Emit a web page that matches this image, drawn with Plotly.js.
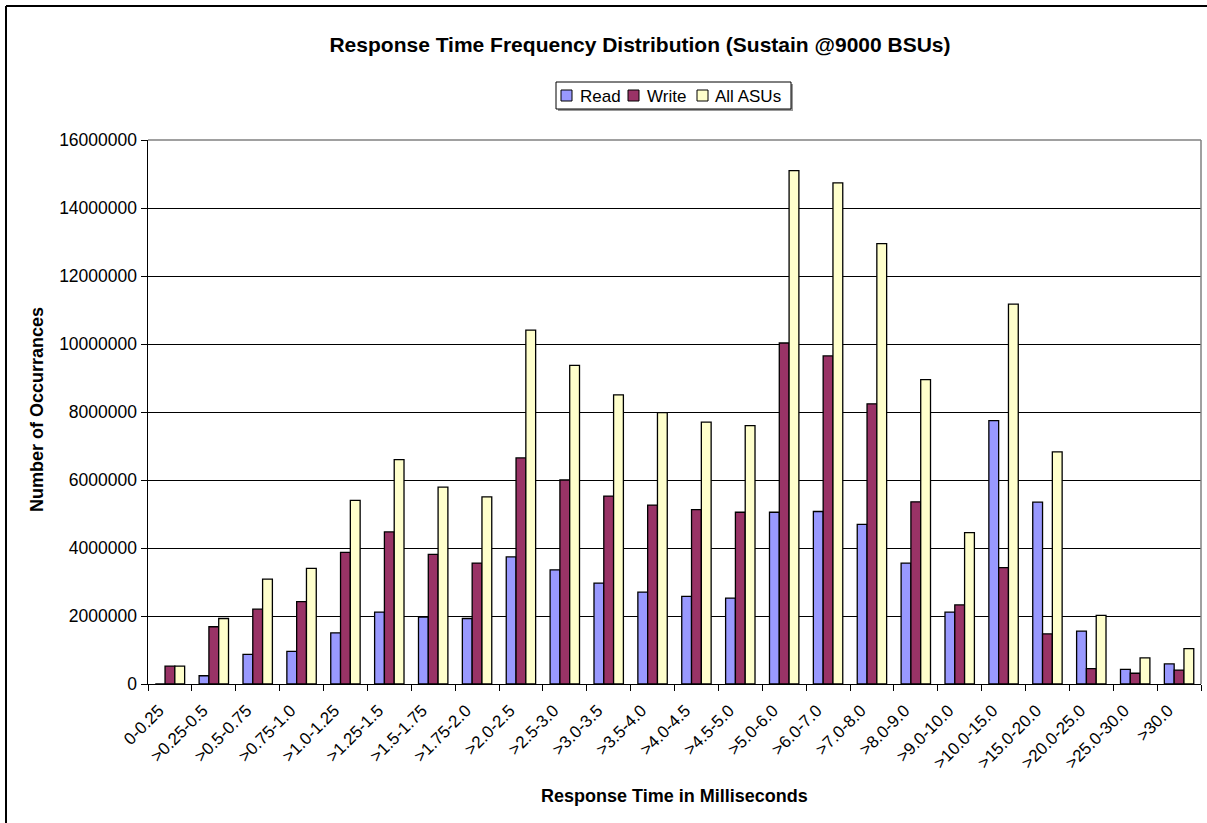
<!DOCTYPE html>
<html>
<head>
<meta charset="utf-8">
<script src="https://cdn.plot.ly/plotly-3.0.1.min.js"></script>
<style>
  html, body { margin: 0; padding: 0; background: #fff; }
  #chart { width: 1207px; height: 823px; }
</style>
</head>
<body>
<div id="chart"></div>
<script>
// Response-time buckets (ms)
const buckets = [
  "0-0.25", ">0.25-0.5", ">0.5-0.75", ">0.75-1.0", ">1.0-1.25", ">1.25-1.5",
  ">1.5-1.75", ">1.75-2.0", ">2.0-2.5", ">2.5-3.0", ">3.0-3.5", ">3.5-4.0",
  ">4.0-4.5", ">4.5-5.0", ">5.0-6.0", ">6.0-7.0", ">7.0-8.0", ">8.0-9.0",
  ">9.0-10.0", ">10.0-15.0", ">15.0-20.0", ">20.0-25.0", ">25.0-30.0", ">30.0"
];

// Occurrence counts per bucket
const readCounts = [
  0, 242000, 874000, 958000, 1505000, 2116000,
  1968000, 1926000, 3737000, 3358000, 2968000, 2705000,
  2579000, 2526000, 5052000, 5074000, 4695000, 3558000,
  2116000, 7747000, 5347000, 1558000, 432000, 589000
];
const writeCounts = [
  526000, 1684000, 2200000, 2420000, 3874000, 4474000,
  3810000, 3558000, 6650000, 6000000, 5526000, 5263000,
  5126000, 5052000, 10030000, 9650000, 8240000, 5358000,
  2326000, 3420000, 1474000, 453000, 316000, 410000
];
const allCounts = [
  526000, 1926000, 3084000, 3400000, 5400000, 6600000,
  5790000, 5505000, 10410000, 9370000, 8505000, 7979000,
  7705000, 7600000, 15100000, 14740000, 12950000, 8950000,
  4453000, 11170000, 6830000, 2020000, 768000, 1042000
];

const seriesNames = ["Read", "Write", "All ASUs"];
const seriesColors = ["#9999FF", "#993366", "#FFFFCC"];

const yTicks = [0, 2000000, 4000000, 6000000, 8000000, 10000000, 12000000, 14000000, 16000000];

const FONT = "Arial, 'Liberation Sans', sans-serif";

// page size and plot-area margins (px)
const W = 1207, H = 823;
const L = 148, R = 6, T = 140, B = 139;
const pw = W - L - R, ph = H - T - B;
const px = v => (v - L) / pw;        // page x -> paper x
const py = v => (H - B - v) / ph;    // page y -> paper y

const traces = [readCounts, writeCounts, allCounts].map((vals, i) => ({
  type: "bar",
  name: seriesNames[i],
  x: buckets,
  y: vals,
  marker: { color: seriesColors[i], line: { color: "#000", width: 1.3 } },
  hoverinfo: "x+y+name"
}));

// Boxed legend across the top: small swatches followed by series names
const legendBox = { x0: 556, x1: 791, y0: 82, y1: 109 };
const swatchLeft = [561, 628, 697];
const labelLeft = [578, 645, 713];
const swatch = 11;
const legendMid = (legendBox.y0 + legendBox.y1) / 2;

const legendShapes = [
  // drop shadow
  { type: "rect", xref: "paper", yref: "paper",
    x0: px(legendBox.x0 + 2), x1: px(legendBox.x1 + 2),
    y0: py(legendBox.y0 + 2), y1: py(legendBox.y1 + 2),
    fillcolor: "#9a9a9a", line: { width: 0 }, layer: "above" },
  { type: "rect", xref: "paper", yref: "paper",
    x0: px(legendBox.x0), x1: px(legendBox.x1),
    y0: py(legendBox.y0), y1: py(legendBox.y1),
    fillcolor: "#fff", line: { color: "#000", width: 1 }, layer: "above" }
].concat(seriesColors.map((c, i) => ({
  type: "rect", xref: "paper", yref: "paper",
  x0: px(swatchLeft[i]), x1: px(swatchLeft[i] + swatch),
  y0: py(legendMid - swatch / 2), y1: py(legendMid + swatch / 2),
  fillcolor: c, line: { color: "#000", width: 1 }, layer: "above"
})));

const legendLabels = seriesNames.map((n, i) => ({
  text: n, xref: "paper", yref: "paper",
  x: px(labelLeft[i]), y: py(legendMid + 0.5),
  xanchor: "left", yanchor: "middle", showarrow: false,
  font: { family: FONT, size: 17, color: "#000" }
}));

const layout = {
  width: W, height: H,
  margin: { l: L, r: R, t: T, b: B, pad: 0 },
  paper_bgcolor: "#fff",
  plot_bgcolor: "#fff",
  font: { family: FONT, color: "#000", size: 17 },
  barmode: "group",
  bargap: 0.33,
  bargroupgap: 0,
  showlegend: false,
  title: {
    text: "<b>Response Time Frequency Distribution (Sustain @9000 BSUs)</b>",
    font: { family: FONT, size: 21, color: "#000" },
    xref: "paper", x: px(640), xanchor: "center",
    yref: "container", y: 1 - 45 / H, yanchor: "middle"
  },
  xaxis: {
    type: "category",
    tickangle: -45,
    tickfont: { family: FONT, size: 17, color: "#000" },
    ticks: "outside", ticklen: 6, tickcolor: "#000", tickwidth: 1,
    tickson: "boundaries",
    ticklabelshift: -11,
    ticklabelstandoff: 9,
    showline: true, linecolor: "#000", linewidth: 1,
    showgrid: false,
    zeroline: false,
    fixedrange: true
  },
  yaxis: {
    range: [0, 16000000],
    tickvals: yTicks,
    ticktext: yTicks.map(v => String(v)),
    tickfont: { family: FONT, size: 17.5, color: "#000" },
    ticks: "outside", ticklen: 6, tickcolor: "#000", tickwidth: 1,
    showline: true, linecolor: "#000", linewidth: 1.5,
    showgrid: true, gridcolor: "#000", gridwidth: 1,
    zeroline: false,
    fixedrange: true
  },
  annotations: [
    {
      text: "<b>Number of Occurrances</b>",
      xref: "paper", yref: "paper",
      x: px(37), y: py(410),
      xanchor: "center", yanchor: "middle",
      textangle: -90, showarrow: false,
      font: { family: FONT, size: 18, color: "#000" }
    },
    {
      text: "<b>Response Time in Milliseconds</b>",
      xref: "paper", yref: "paper",
      x: px(674), y: py(796),
      xanchor: "center", yanchor: "middle",
      showarrow: false,
      font: { family: FONT, size: 18, color: "#000" }
    }
  ].concat(legendLabels),
  shapes: [
    // grey frame on top and right of the plot area
    { type: "line", xref: "paper", yref: "paper", x0: 0, x1: 1, y0: 1, y1: 1,
      line: { color: "#808080", width: 1.5 }, layer: "above" },
    { type: "line", xref: "paper", yref: "paper", x0: 1, x1: 1, y0: 0, y1: 1,
      line: { color: "#808080", width: 1.5 }, layer: "above" },
    // chart-area border (left and top)
    { type: "line", xref: "paper", yref: "paper", x0: px(6), x1: px(6), y0: py(6), y1: py(H + 5),
      line: { color: "#000", width: 2 }, layer: "above" },
    { type: "line", xref: "paper", yref: "paper", x0: px(6), x1: px(W + 5), y0: py(6), y1: py(6),
      line: { color: "#000", width: 2 }, layer: "above" }
  ].concat(legendShapes)
};

Plotly.newPlot("chart", traces, layout, { staticPlot: true, displayModeBar: false });
</script>
</body>
</html>
